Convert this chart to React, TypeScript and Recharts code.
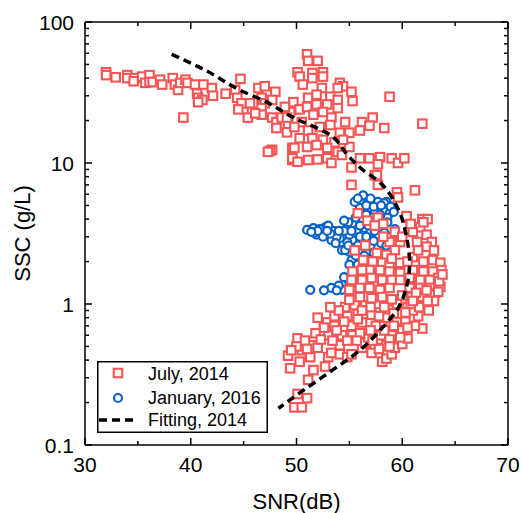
import React from "react";
import {
  ScatterChart,
  Scatter,
  XAxis,
  YAxis,
  Legend,
  ReferenceLine,
} from "recharts";

const FONT = "'Liberation Sans', Arial, sans-serif";
const RED = "#F75454";
const BLUE = "#0A62C6";
const FRAME_W = 1.5;

// plot box size (chart 523x513 minus margins and axis bands)
const PLOT_W = 423;
const PLOT_H = 423;

// tick values
const xMajorTicks = [30, 40, 50, 60, 70];
const xMinorTicks = [35, 45, 55, 65];
const yMajorTicks = [0.1, 1, 10, 100];
const yMinorTicks = [
  0.2, 0.3, 0.4, 0.5, 0.6, 0.7, 0.8, 0.9,
  2, 3, 4, 5, 6, 7, 8, 9,
  20, 30, 40, 50, 60, 70, 80, 90,
];

// July 2014 samples: [SNR (dB), SSC (g/L)]
const july2014: [number, number][] = [
  [32.0, 44], [32.0, 42], [32.9, 40.5], [34.0, 42], [34.0, 40], [34.7, 40], [34.6, 38],
  [35.4, 41], [35.7, 37], [36.1, 42], [36.1, 37.5], [36.4, 37.5], [37.1, 39], [37.3, 36],
  [38.3, 40], [38.5, 36], [38.8, 33], [39.0, 37], [39.5, 39], [39.7, 37], [40.4, 36],
  [40.6, 31], [40.7, 29], [41.1, 28], [40.7, 27], [41.2, 36], [42.0, 34], [42.1, 30],
  [39.3, 21], [43.3, 31], [44.2, 33], [44.7, 39.5], [44.4, 29], [44.8, 26.5], [44.5, 24],
  [45.6, 26.5], [45.8, 23], [46.4, 34], [47.0, 35], [46.7, 29], [47.0, 26.5], [48.0, 32],
  [47.7, 28], [46.7, 24.5], [46.7, 22], [47.7, 21], [48.1, 19.5], [48.6, 21], [48.1, 17.7],
  [49.1, 16.5], [49.2, 19], [49.6, 24], [45.4, 21], [46.1, 22.5], [47.7, 12.4], [47.5, 12.2],
  [47.3, 12], [49.6, 12.8], [49.6, 10.5],
  [51.0, 59], [51.1, 53], [52.0, 53], [50.1, 44], [50.3, 41], [51.5, 43.5], [52.5, 44],
  [52.5, 41], [51.5, 40], [50.6, 36], [52.4, 34], [54.1, 37], [54.4, 35], [53.9, 34],
  [55.2, 32], [55.3, 27.5], [58.8, 29.5], [49.7, 27], [51.1, 29], [51.9, 30.5], [53.2, 29.5],
  [53.9, 28], [51.9, 26], [52.9, 26], [53.9, 24.5], [50.3, 24], [49.4, 23], [51.0, 25],
  [48.9, 25], [49.1, 21], [51.6, 22], [52.5, 23], [53.3, 21], [54.6, 19.5], [56.2, 19.5],
  [57.2, 21], [56.9, 18.4], [58.3, 17.7], [61.9, 19], [50.5, 19.5], [49.8, 18], [51.1, 17],
  [52.2, 18], [53.2, 18.6], [54.1, 16.4], [55.0, 16.4], [56.0, 17], [50.3, 15], [51.5, 15],
  [52.5, 14.6], [53.6, 14], [55.0, 13], [54.4, 14.6], [49.8, 12.8], [51.0, 13], [51.9, 13.4],
  [52.9, 12.8], [53.9, 12], [54.3, 11.4], [49.6, 10.8], [50.1, 10.2], [51.1, 10.5], [52.0, 10.6],
  [52.9, 10.8], [53.3, 10], [56.0, 10.8], [56.9, 10.8], [57.9, 11], [57.7, 9.8], [59.0, 10.8],
  [59.6, 10], [60.2, 10.8], [55.2, 9.3], [57.4, 8.2],
  [55.2, 7.0], [57.6, 8.2], [57.7, 7.0], [59.5, 6.2], [61.2, 6.4], [59.6, 5.7], [55.8, 4.4],
  [56.7, 3.9], [57.7, 4.1], [57.4, 3.6], [58.2, 3.7], [59.3, 3.25], [60.4, 4.1], [61.9, 4.0],
  [62.4, 4.0], [61.7, 3.5], [61.0, 3.25], [62.3, 3.1], [62.8, 2.75], [61.4, 2.75], [62.3, 2.55],
  [59.8, 2.75], [58.8, 2.75], [59.3, 2.41], [58.5, 2.23], [57.6, 2.3], [56.3, 2.05], [57.2, 2.0],
  [58.1, 1.96], [58.8, 1.89], [59.8, 1.96], [61.0, 2.15], [62.0, 2.0], [62.9, 2.05], [63.6, 1.96],
  [63.7, 1.74], [62.9, 1.7], [62.0, 1.7], [61.0, 1.74], [59.8, 1.66], [58.8, 1.7], [57.9, 1.74],
  [56.9, 1.74], [56.2, 1.74], [55.3, 1.7], [55.2, 1.48], [56.2, 1.48], [57.1, 1.53], [58.1, 1.48],
  [59.0, 1.48], [59.8, 1.48], [60.7, 1.53], [61.7, 1.48], [62.6, 1.48], [63.4, 1.53], [55.0, 1.26],
  [56.0, 1.3], [56.9, 1.3], [57.9, 1.26], [58.8, 1.3], [60.7, 1.3], [61.7, 1.3], [62.6, 1.3],
  [63.6, 1.32], [63.1, 1.2], [60.4, 4.2], [58.2, 3.0], [60.0, 3.0], [61.5, 2.4], [63.0, 2.4],
  [60.5, 2.0], [59.0, 2.1], [62.0, 3.8], [60.8, 3.7], [55.5, 2.4], [56.5, 2.6],
  [50.1, 0.57], [49.2, 0.43], [49.4, 0.35], [50.3, 0.39], [50.5, 0.47], [51.3, 0.42], [51.6, 0.34],
  [51.1, 0.29], [51.5, 0.51], [52.0, 0.49], [52.7, 0.36], [53.0, 0.42], [53.3, 0.45], [54.1, 0.44],
  [54.8, 0.42], [55.2, 0.44], [56.2, 0.49], [57.4, 0.49], [58.1, 0.39], [58.5, 0.41], [59.0, 0.44],
  [59.3, 0.49], [60.0, 0.52], [60.5, 0.57], [61.9, 0.67], [52.0, 0.8], [52.9, 0.74], [53.6, 0.7],
  [53.6, 0.82], [54.6, 0.95], [54.8, 0.82], [55.5, 0.98], [55.2, 0.7], [55.3, 0.6], [54.3, 0.6],
  [53.0, 0.6], [56.5, 0.98], [56.2, 0.74], [56.6, 0.62], [57.1, 0.84], [57.7, 1.0], [58.1, 0.7],
  [58.8, 0.91], [59.5, 0.77], [60.0, 0.65], [60.5, 0.95], [61.5, 0.82], [60.9, 1.12], [61.9, 1.1],
  [62.8, 1.16], [63.4, 1.22], [62.1, 0.98], [58.1, 1.12], [57.1, 1.1], [56.0, 1.12], [55.0, 1.07],
  [49.8, 0.185], [50.5, 0.185], [50.1, 0.23], [51.0, 0.215], [58.3, 0.51], [57.7, 0.56],
  [57.1, 0.45], [56.5, 0.53], [54.1, 0.51],
  [59.0, 0.6], [59.8, 0.85], [60.3, 0.75], [61.0, 0.9], [61.2, 0.7], [62.5, 0.9], [63.0, 1.05],
  [58.5, 0.8], [57.5, 0.7], [56.8, 0.58], [58.0, 0.6], [59.5, 1.0], [60.8, 1.0], [55.8, 0.85],
  [54.0, 0.9], [53.2, 0.95], [52.6, 0.68], [51.8, 0.62], [50.8, 0.55], [57.8, 0.48], [58.8, 0.56],
  [60.0, 1.15], [61.3, 1.2], [62.3, 1.25], [63.5, 1.45], [63.8, 1.62],
  [56.0, 0.62], [57.0, 0.65], [58.3, 0.65], [59.2, 0.7], [60.5, 0.68], [59.8, 0.58], [58.8, 0.5],
  [57.2, 0.55], [55.7, 0.55], [54.8, 0.55], [53.8, 0.65], [54.5, 0.75], [55.8, 0.78], [57.8, 0.82],
  [59.2, 0.86], [60.3, 0.87], [61.6, 0.95], [62.4, 1.05], [61.0, 1.05], [59.0, 1.08], [58.3, 0.95],
  [57.0, 0.95], [56.2, 0.9], [53.4, 0.55], [52.3, 0.56], [51.0, 0.48], [50.0, 0.5], [49.5, 0.47],
];

// January 2016 samples
const jan2016: [number, number][] = [
  [56.3, 5.9], [56.7, 5.2], [57.7, 5.3], [58.5, 5.3], [56.0, 4.8], [58.2, 4.6], [58.8, 4.4],
  [57.4, 4.6], [55.3, 3.7], [54.8, 3.45], [55.7, 3.35], [56.5, 3.45], [51.0, 3.35], [51.6, 3.45],
  [52.7, 3.5], [51.9, 3.1], [53.3, 2.84], [54.1, 2.94], [54.3, 2.41], [55.3, 2.84], [56.3, 2.75],
  [57.6, 3.0], [58.5, 2.84], [55.0, 2.35], [56.0, 2.41], [55.2, 2.05], [51.3, 1.26], [53.3, 1.3],
  [54.3, 1.26], [54.9, 1.48], [55.7, 1.48], [56.5, 1.55], [58.8, 2.1], [59.0, 2.41], [51.7, 3.2],
  [52.2, 3.4], [53.8, 3.0], [54.6, 2.41], [56.6, 5.0], [58.3, 5.2], [58.6, 4.1], [54.9, 3.8],
  [57.6, 3.1], [56.1, 1.7], [56.6, 2.3], [54.8, 2.75], [55.0, 3.1], [56.0, 3.0], [57.0, 3.3],
  [57.2, 3.8], [56.2, 4.0], [57.8, 4.0], [58.0, 3.5], [55.8, 2.6], [57.0, 2.6], [54.5, 3.3],
  [53.5, 3.3], [52.5, 3.0], [53.0, 3.6], [56.8, 2.0], [57.5, 1.8], [55.5, 1.7], [52.6, 1.25],
  [55.5, 5.3],
  [55.8, 5.6], [57.0, 5.6], [57.3, 4.9], [58.0, 5.0], [58.9, 4.9], [59.2, 4.5], [57.9, 4.3],
  [56.6, 4.3], [55.6, 4.1], [54.5, 3.9], [55.2, 3.3], [56.0, 3.6], [56.8, 3.6], [57.4, 3.3],
  [58.3, 3.2], [58.9, 3.0], [59.3, 2.8], [58.0, 2.7], [57.3, 2.8], [56.6, 3.0], [54.0, 3.3],
  [53.2, 3.15], [52.0, 3.3], [51.4, 3.25], [52.9, 3.3], [53.7, 2.7], [54.9, 2.6], [55.6, 2.2],
  [56.4, 2.2], [57.3, 2.3], [58.2, 2.3], [55.0, 1.9], [55.8, 1.9], [56.3, 1.85], [54.5, 1.55],
  [55.3, 1.6], [56.0, 1.45], [54.0, 1.35], [55.0, 1.35], [53.8, 1.25], [57.0, 1.6], [58.5, 2.6],
  [59.3, 3.4], [58.6, 3.8],
];

// fitting curve
const fit2014: [number, number][] = [
  [38.2, 59], [41.5, 45], [44.6, 33], [47.2, 27], [49.7, 21], [52.9, 16.3], [55.0, 11],
  [56.3, 8.9], [57.6, 7.6], [59.5, 4.9], [60.4, 3.0], [60.7, 1.95], [60.4, 1.32], [59.5, 0.906],
  [58.2, 0.69], [56.0, 0.47], [52.9, 0.32], [50.3, 0.234], [48.3, 0.182],
];

const toPoints = (arr: [number, number][]) => arr.map(([x, y]) => ({ x, y }));

const RedSquare = (props: any) => {
  const { cx, cy } = props;
  return <rect x={cx - 4.25} y={cy - 4.25} width={8.5} height={8.5} fill="#fff" stroke={RED} strokeWidth={2.1} />;
};

const BlueCircle = (props: any) => {
  const { cx, cy } = props;
  return <circle cx={cx} cy={cy} r={4} fill="#fff" stroke={BLUE} strokeWidth={2.2} />;
};

const NoDot = () => <g />;

const tickText = { fontFamily: FONT, fontSize: 21, fill: "#000" };

// bottom ticks, mirrored on the top edge of the frame
const XTick = (props: any) => {
  const { x, y, payload } = props;
  const major = xMajorTicks.includes(payload.value);
  const len = major ? 7 : 4;
  const top = y - PLOT_H;
  return (
    <g>
      <line x1={x} x2={x} y1={y} y2={y - len} stroke="#000" strokeWidth={FRAME_W} />
      <line x1={x} x2={x} y1={top} y2={top + len} stroke="#000" strokeWidth={FRAME_W} />
      {major && (
        <text x={x} y={y + 27} textAnchor="middle" {...tickText}>
          {payload.value}
        </text>
      )}
    </g>
  );
};

// left ticks, mirrored on the right edge of the frame
const YTick = (props: any) => {
  const { x, y, payload } = props;
  const major = yMajorTicks.includes(payload.value);
  const len = major ? 7 : 4;
  const right = x + PLOT_W;
  return (
    <g>
      <line x1={x} x2={x + len} y1={y} y2={y} stroke="#000" strokeWidth={FRAME_W} />
      <line x1={right} x2={right - len} y1={y} y2={y} stroke="#000" strokeWidth={FRAME_W} />
      {major && (
        <text x={x - 11} y={y + 7.5} textAnchor="end" {...tickText}>
          {payload.value}
        </text>
      )}
    </g>
  );
};

const XTitle = (props: any) => {
  const { viewBox } = props;
  return (
    <text x={viewBox.x + viewBox.width / 2} y={viewBox.y + 64} textAnchor="middle" fontFamily={FONT} fontSize={22} fill="#000">
      SNR(dB)
    </text>
  );
};

const YTitle = (props: any) => {
  const { viewBox } = props;
  const cx = viewBox.x + 30;
  const cy = viewBox.y + viewBox.height / 2;
  return (
    <text x={cx} y={cy} transform={`rotate(-90, ${cx}, ${cy})`} textAnchor="middle" fontFamily={FONT} fontSize={22} fill="#000">
      SSC (g/L)
    </text>
  );
};

const LegendBox = () => (
  <svg width={171} height={72} style={{ display: "block" }}>
    <rect x={0.75} y={0.75} width={169.5} height={70.5} fill="#fff" stroke="#000" strokeWidth={FRAME_W} />
    <rect x={16.75} y={7.75} width={8.5} height={8.5} fill="#fff" stroke={RED} strokeWidth={2.1} />
    <circle cx={21} cy={37} r={4} fill="#fff" stroke={BLUE} strokeWidth={2.2} />
    <line x1={2} x2={40} y1={59} y2={59} stroke="#000" strokeWidth={3.5} strokeDasharray="8 5" />
    <g fontFamily={FONT} fontSize={18} fill="#000">
      <text x={51} y={19}>July, 2014</text>
      <text x={51} y={43}>January, 2016</text>
      <text x={51} y={65}>Fitting, 2014</text>
    </g>
  </svg>
);

export default function App() {
  const allXTicks = [...xMajorTicks, ...xMinorTicks].sort((a, b) => a - b);
  const allYTicks = [...yMajorTicks, ...yMinorTicks].sort((a, b) => a - b);
  const axisLine = { stroke: "#000", strokeWidth: FRAME_W };

  return (
    <div style={{ position: "absolute", left: 0, top: 0, width: 523, height: 513, background: "#fff" }}>
      <ScatterChart width={523} height={513} margin={{ top: 22, right: 15, bottom: 0, left: 0 }}>
        <XAxis
          type="number"
          dataKey="x"
          domain={[30, 70]}
          allowDataOverflow
          ticks={allXTicks}
          interval={0}
          height={68}
          tickSize={0}
          tickMargin={0}
          tickLine={false}
          axisLine={axisLine}
          tick={<XTick />}
          label={<XTitle />}
        />
        <YAxis
          type="number"
          dataKey="y"
          scale="log"
          domain={[0.1, 100]}
          allowDataOverflow
          ticks={allYTicks}
          interval={0}
          width={85}
          tickSize={0}
          tickMargin={0}
          tickLine={false}
          axisLine={axisLine}
          tick={<YTick />}
          label={<YTitle />}
        />
        <ReferenceLine y={100} stroke="#000" strokeWidth={FRAME_W} ifOverflow="visible" />
        <ReferenceLine x={70} stroke="#000" strokeWidth={FRAME_W} ifOverflow="visible" />
        <Scatter
          name="January, 2016"
          data={toPoints(jan2016)}
          shape={<BlueCircle />}
          isAnimationActive={false}
        />
        <Scatter
          name="July, 2014"
          data={toPoints(july2014)}
          shape={<RedSquare />}
          isAnimationActive={false}
        />
        <Scatter
          name="Fitting, 2014"
          data={toPoints(fit2014)}
          shape={<NoDot />}
          line={{ stroke: "#000", strokeWidth: 3.5, strokeDasharray: "8 5" }}
          lineType="joint"
          lineJointType="monotoneY"
          isAnimationActive={false}
        />
        <Legend
          layout="vertical"
          align="center"
          verticalAlign="middle"
          wrapperStyle={{ left: 97, top: 361, width: 171, height: 72 }}
          content={() => <LegendBox />}
        />
      </ScatterChart>
    </div>
  );
}
